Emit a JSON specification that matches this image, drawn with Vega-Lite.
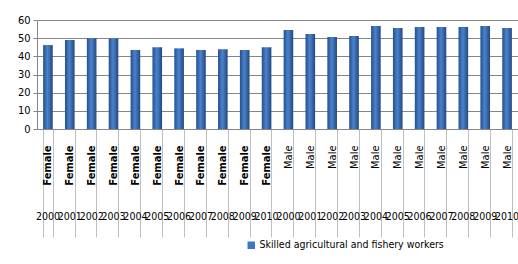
{
  "$schema": "https://vega.github.io/schema/vega-lite/v6.json",
  "width": 481,
  "height": 109,
  "autosize": "none",
  "padding": {"left": 37, "top": 20, "right": 0, "bottom": 135},
  "background": "white",
  "config": {"view": {"stroke": null}, "font": "DejaVu Sans Condensed, Liberation Sans, sans-serif"},
  "data": {"values": [
    {"key": "Female|2000", "value": 46.2, "series": "Skilled agricultural and fishery workers"},
    {"key": "Female|2001", "value": 49.0, "series": "Skilled agricultural and fishery workers"},
    {"key": "Female|2002", "value": 49.9, "series": "Skilled agricultural and fishery workers"},
    {"key": "Female|2003", "value": 49.8, "series": "Skilled agricultural and fishery workers"},
    {"key": "Female|2004", "value": 43.5, "series": "Skilled agricultural and fishery workers"},
    {"key": "Female|2005", "value": 45.0, "series": "Skilled agricultural and fishery workers"},
    {"key": "Female|2006", "value": 44.4, "series": "Skilled agricultural and fishery workers"},
    {"key": "Female|2007", "value": 43.5, "series": "Skilled agricultural and fishery workers"},
    {"key": "Female|2008", "value": 43.9, "series": "Skilled agricultural and fishery workers"},
    {"key": "Female|2009", "value": 43.5, "series": "Skilled agricultural and fishery workers"},
    {"key": "Female|2010", "value": 45.0, "series": "Skilled agricultural and fishery workers"},
    {"key": "Male|2000", "value": 54.5, "series": "Skilled agricultural and fishery workers"},
    {"key": "Male|2001", "value": 52.3, "series": "Skilled agricultural and fishery workers"},
    {"key": "Male|2002", "value": 50.6, "series": "Skilled agricultural and fishery workers"},
    {"key": "Male|2003", "value": 51.2, "series": "Skilled agricultural and fishery workers"},
    {"key": "Male|2004", "value": 56.7, "series": "Skilled agricultural and fishery workers"},
    {"key": "Male|2005", "value": 55.6, "series": "Skilled agricultural and fishery workers"},
    {"key": "Male|2006", "value": 56.1, "series": "Skilled agricultural and fishery workers"},
    {"key": "Male|2007", "value": 56.1, "series": "Skilled agricultural and fishery workers"},
    {"key": "Male|2008", "value": 56.1, "series": "Skilled agricultural and fishery workers"},
    {"key": "Male|2009", "value": 56.7, "series": "Skilled agricultural and fishery workers"},
    {"key": "Male|2010", "value": 55.6, "series": "Skilled agricultural and fishery workers"}
  ]},
  "encoding": {
    "y": {
      "field": "value", "type": "quantitative",
      "scale": {"domain": [0, 60], "nice": false},
      "axis": {
        "title": null, "values": [0, 10, 20, 30, 40, 50, 60],
        "grid": true, "gridColor": "#868686", "domainColor": "#868686",
        "tickColor": "#868686", "tickSize": 4, "labelPadding": 3,
        "labelFontSize": 11, "labelColor": "#000000", "labelOverlap": false
      }
    }
  },
  "layer": [
    {
      "mark": {
        "type": "bar",
        "color": {
          "gradient": "linear", "x1": 0, "x2": 1, "y1": 0, "y2": 0,
          "stops": [
            {"offset": 0, "color": "#24508e"},
            {"offset": 0.45, "color": "#4b82cc"},
            {"offset": 1, "color": "#22497f"}
          ]
        }
      },
      "encoding": {
        "x": {
          "field": "key", "type": "nominal", "sort": null,
          "scale": {"paddingInner": 0.56, "paddingOuter": 0.28},
          "axis": {
            "orient": "bottom", "title": null,
            "labelExpr": "isString(datum.value) ? split(datum.value, '|')[0] : ''",
            "labelAngle": -90, "labelAlign": "right", "labelBaseline": "middle",
            "tickBand": "extent", "tickSize": 108, "tickColor": "#c0c0c0",
            "domainColor": "#868686",
            "labelPadding": -92, "labelFontSize": 11, "labelColor": "#000000",
            "labelFontWeight": {"condition": {"test": "isString(datum.value) && indexof(datum.value, 'Female') == 0", "value": "bold"}, "value": "normal"},
            "labelOverlap": false, "labelBound": false
          }
        }
      }
    },
    {
      "mark": {"type": "point", "shape": "square", "filled": true, "opacity": 0},
      "encoding": {
        "x": {
          "field": "key", "type": "nominal", "sort": null,
          "axis": {
            "orient": "bottom", "title": null,
            "labelExpr": "isString(datum.value) ? split(datum.value, '|')[1] : ''",
            "labelAngle": 0, "ticks": false, "domain": false, "grid": false,
            "tickSize": 0, "labelPadding": 82, "labelFontSize": 10.5,
            "labelColor": "#000000",
            "labelOverlap": false, "labelBound": false, "labelFlush": false
          }
        },
        "color": {
          "field": "series", "type": "nominal",
          "scale": {"range": ["#3f76c2"]},
          "legend": {
            "title": null, "orient": "none", "legendX": 209, "legendY": 220,
            "symbolType": "square", "symbolSize": 56, "symbolOpacity": 1,
            "symbolStrokeWidth": 0, "labelFontSize": 10.5, "labelLimit": 400,
            "labelOffset": 3, "labelColor": "#000000", "direction": "horizontal"
          }
        }
      }
    }
  ],
  "resolve": {"axis": {"x": "independent"}}
}
